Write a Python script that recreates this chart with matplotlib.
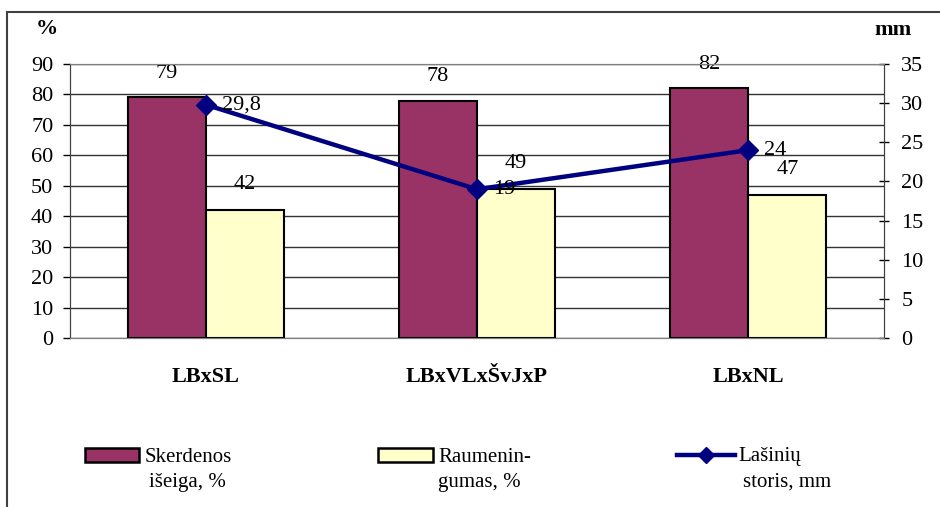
import numpy as np
import matplotlib.pyplot as plt
from matplotlib.patches import Rectangle
from matplotlib.lines import Line2D

plt.rcParams['font.family'] = ['Liberation Serif', 'DejaVu Serif']

grupes = ["LBxSL", "LBxVLxŠvJxP", "LBxNL"]
skerdenos_iseiga = [79, 78, 82]      # %
raumeningumas = [42, 49, 47]         # %
lasiniu_storis = [29.8, 19, 24]      # mm
lasiniu_etiketes = ["29,8", "19", "24"]

spalva_skerd = "#993366"
spalva_raum = "#FFFFCC"
spalva_lin = "#000080"

W, H = 940, 507
fig = plt.figure(figsize=(9.4, 5.07), dpi=100)
ax = fig.add_axes([70 / W, 1 - 338 / H, 814 / W, 274 / H])
ax2 = ax.twinx()

x = np.arange(len(grupes))
w = 0.2875

ax.bar(x - w / 2, skerdenos_iseiga, w, color=spalva_skerd, edgecolor="black", linewidth=1.5, zorder=3)
ax.bar(x + w / 2, raumeningumas, w, color=spalva_raum, edgecolor="black", linewidth=1.5, zorder=3)

for xi, v in zip(x - w / 2, skerdenos_iseiga):
    ax.annotate(str(v), (xi, v), xytext=(0, 17), textcoords="offset points",
                ha="center", va="center", fontsize=16, zorder=5)
for xi, v in zip(x + w / 2, raumeningumas):
    ax.annotate(str(v), (xi, v), xytext=(0, 18.5), textcoords="offset points",
                ha="center", va="center", fontsize=16, zorder=5)

ax.set_xlim(-0.5, 2.5)
ax.set_ylim(0, 90)
ax.set_yticks(range(0, 91, 10))
ax.yaxis.grid(True, color="#333333", linewidth=1.0, zorder=0)
ax.set_axisbelow(True)
ax.set_xticks(x)
ax.set_xticklabels(grupes, fontsize=16, fontweight="bold")
ax.tick_params(axis="x", length=0, pad=21)
ax.tick_params(axis="y", labelsize=16, length=5, width=1, direction="out", pad=7)

ax2.plot(x, lasiniu_storis, color=spalva_lin, linewidth=3.2, marker="D", markersize=10,
         zorder=4, clip_on=False)
for xi, v, t in zip(x, lasiniu_storis, lasiniu_etiketes):
    ax2.annotate(t, (xi, v), xytext=(11.5, 0), textcoords="offset points",
                 ha="left", va="center", fontsize=16, zorder=5)
ax2.set_ylim(0, 35)
ax2.set_yticks(range(0, 36, 5))
ax2.tick_params(axis="y", labelsize=16, length=7, width=1, direction="inout", pad=9)
ax.set_zorder(ax2.get_zorder() - 1)
ax2.patch.set_visible(False)

for a in (ax, ax2):
    a.spines["top"].set_color("#808080")
    a.spines["bottom"].set_color("#808080")
    a.spines["left"].set_color("#404040")
    a.spines["right"].set_color("#404040")

fig.text(47 / W, 1 - 29 / H, "%", fontsize=16, fontweight="bold", ha="center", va="center")
fig.text(893 / W, 1 - 30 / H, "mm", fontsize=16, fontweight="bold", ha="center", va="center")

# rėmelis aplink visą diagramą
fig.add_artist(Rectangle((7 / W, -0.1), 1.0, 1.1 - 12 / H, transform=fig.transFigure,
                         fill=False, edgecolor="#404040", linewidth=1.5, clip_on=False))

# legenda
def px(xp, yp):
    return xp / W, 1 - yp / H

for (x0, x1), spalva in [((85, 139), spalva_skerd), ((378, 433), spalva_raum)]:
    fig.add_artist(Rectangle(px(x0, 462), (x1 - x0) / W, 14 / H, transform=fig.transFigure,
                             facecolor=spalva, edgecolor="black", linewidth=1.8))
lx = [677 / W, 735 / W]
ly = [1 - 455 / H] * 2
fig.add_artist(Line2D(lx, ly, transform=fig.transFigure, color=spalva_lin, linewidth=3.2))
fig.add_artist(Line2D([706 / W], [1 - 455 / H], transform=fig.transFigure, color=spalva_lin,
                      marker="D", markersize=8, linestyle="none"))

eilutes = [(145, "Skerdenos", 149, "išeiga, %"),
           (438, "Raumenin-", 438, "gumas, %"),
           (738, "Lašinių", 743, "storis, mm")]
for x1, t1, x2, t2 in eilutes:
    fig.text(*px(x1, 457), t1, fontsize=15, ha="left", va="center")
    fig.text(*px(x2, 482), t2, fontsize=15, ha="left", va="center")

fig.savefig("out.png", dpi=100)
